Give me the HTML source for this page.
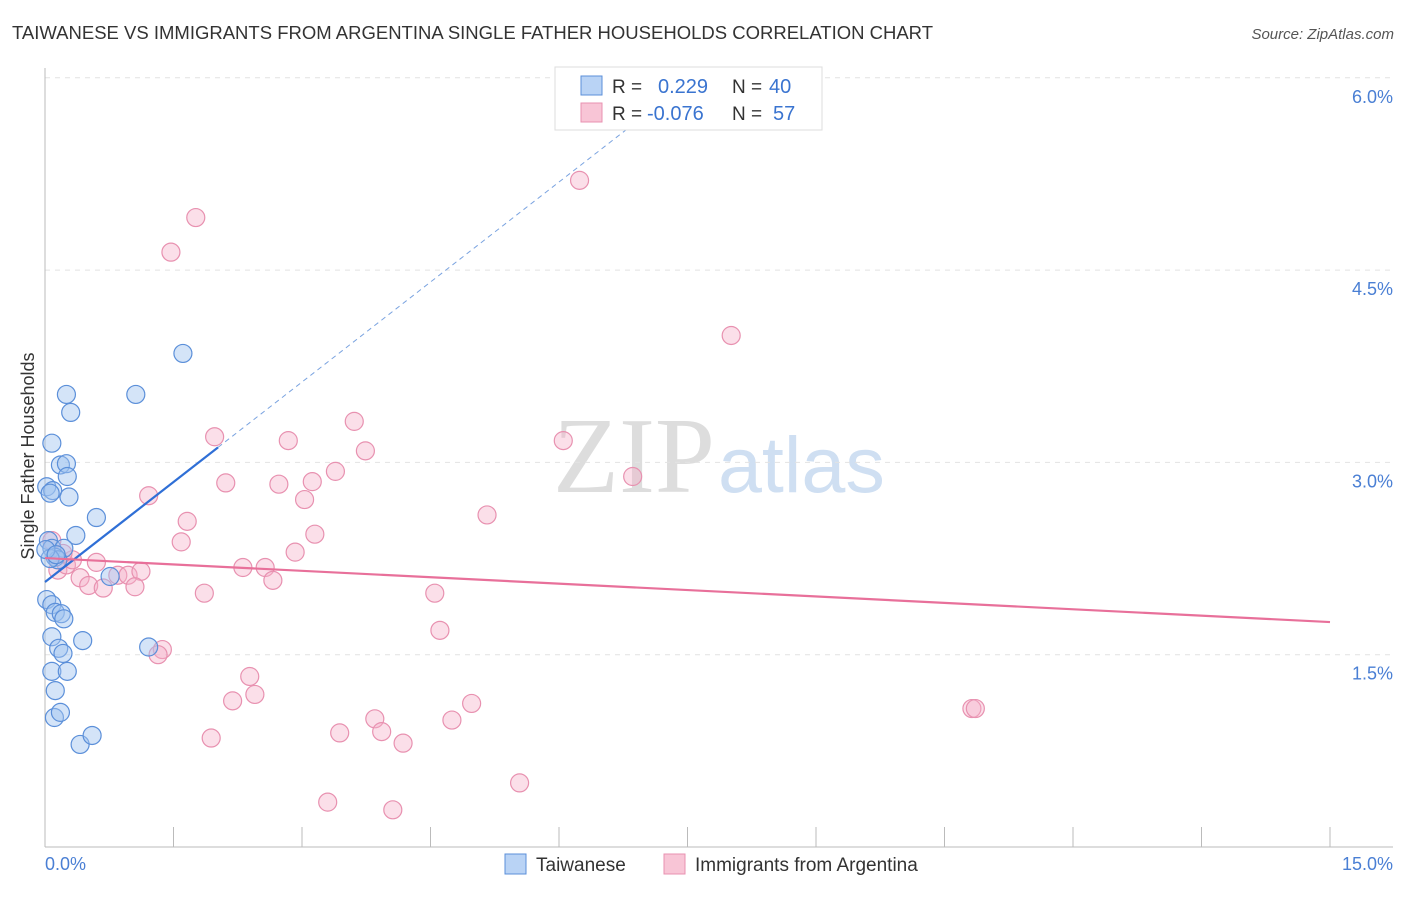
<!DOCTYPE html>
<html><head><meta charset="utf-8"><style>
body{margin:0;background:#fff;font-family:"Liberation Sans",sans-serif}
svg text{font-family:"Liberation Sans",sans-serif}
</style></head><body>
<svg id="chart" width="1406" height="892" xmlns="http://www.w3.org/2000/svg">
<text x="12" y="39" font-size="18.5" fill="#333">TAIWANESE VS IMMIGRANTS FROM ARGENTINA SINGLE FATHER HOUSEHOLDS CORRELATION CHART</text>
<text x="1394" y="39" font-size="15" fill="#555" font-style="italic" text-anchor="end">Source: ZipAtlas.com</text>
<g>
<text x="553" y="492" font-size="108" fill="#ddd" style="font-family:'Liberation Serif',serif">ZIP</text>
<text x="718" y="492" font-size="79" fill="#cfdff2">atlas</text>
</g>
<g id="grid"></g>
<g id="axes"></g>
<g id="marks"></g>
<text transform="translate(34,456) rotate(-90)" font-size="18" fill="#333" text-anchor="middle">Single Father Households</text>
<g>
<rect x="555" y="67" width="267" height="63" fill="#fff" stroke="#ddd"/>
<rect x="581" y="76" width="21" height="19" fill="#b9d3f5" stroke="#5b8fd9"/>
<rect x="581" y="103" width="21" height="19" fill="#f8c5d6" stroke="#e891b0"/>
<text x="612" y="93" font-size="19" fill="#333">R = </text><text x="658" y="93" font-size="20" fill="#3a74d0">0.229</text>
<text x="732" y="93" font-size="19" fill="#333">N = </text><text x="769" y="93" font-size="20" fill="#3a74d0">40</text>
<text x="612" y="120" font-size="19" fill="#333">R = </text><text x="647" y="120" font-size="20" fill="#3a74d0">-0.076</text>
<text x="732" y="120" font-size="19" fill="#333">N = </text><text x="773" y="120" font-size="20" fill="#3a74d0">57</text>
</g>
<g>
<rect x="505" y="854" width="21" height="20" fill="#b9d3f5" stroke="#5b8fd9"/>
<text x="536" y="871" font-size="19" fill="#333">Taiwanese</text>
<rect x="664" y="854" width="21" height="20" fill="#f8c5d6" stroke="#e891b0"/>
<text x="695" y="871" font-size="19" fill="#333">Immigrants from Argentina</text>
</g>
</svg>
<script>
const blueX=[1.61,.25,1.06,.30,.08,.18,.25,.26,.02,.09,.28,.60,.36,.04,.08,.22,.12,.15,.06,.76,.02,.08,.12,.19,.22,.44,.08,.16,.21,1.21,.08,.26,.12,.11,.18,.41,.55,.01,.06,.13];
const blueY=[3.85,3.53,3.53,3.39,3.15,2.98,2.99,2.89,2.81,2.78,2.73,2.57,2.43,2.39,2.33,2.33,2.26,2.24,2.25,2.11,1.93,1.89,1.83,1.82,1.78,1.61,1.64,1.55,1.51,1.56,1.37,1.37,1.22,1.01,1.05,.80,.87,2.32,2.76,2.28];
const pinkX=[6.24,1.76,1.47,8.01,1.98,6.05,2.84,3.61,3.74,6.86,3.39,1.21,2.11,2.73,3.12,3.03,5.16,1.66,3.15,1.59,2.92,.08,.15,.25,.32,.60,.41,.51,.68,.85,.97,1.12,1.05,2.31,2.57,2.66,1.86,4.55,4.61,1.37,1.32,2.39,2.45,2.19,1.94,3.85,3.93,3.44,4.75,4.98,4.18,3.30,4.06,5.54,10.82,10.86,.21];
const pinkY=[5.20,4.91,4.64,3.99,3.20,3.17,3.17,3.32,3.09,2.89,2.93,2.74,2.84,2.83,2.85,2.71,2.59,2.54,2.44,2.38,2.30,2.39,2.16,2.20,2.24,2.22,2.10,2.04,2.02,2.12,2.12,2.15,2.03,2.18,2.18,2.08,1.98,1.98,1.69,1.54,1.50,1.33,1.19,1.14,.85,1.00,.90,.89,.99,1.12,.81,.35,.29,.50,1.08,1.08,2.29];
const yTicks=[1.5,3.0,4.5,6.0];
const yTickLabels=["1.5%","3.0%","4.5%","6.0%"];
const xTicks=[0,1.5,3,4.5,6,7.5,9,10.5,12,13.5,15];
const xTickLabels=["0.0%","15.0%"];
const blueTrend=[2.067,0.52,2.02];
const pinkTrend=[2.254,-0.0333];
const NS="http://www.w3.org/2000/svg";
const sx=v=>45+v/15*1285, sy=v=>847-v*128.2;
function mk(p,t,a){const e=document.createElementNS(NS,t);for(const k in a)e.setAttribute(k,a[k]);p.appendChild(e);return e;}
const G=document.getElementById('grid'),A=document.getElementById('axes'),M=document.getElementById('marks');
yTicks.forEach((v,i)=>{
 const l=mk(G,'line',{x1:45,x2:1393,y1:sy(v),y2:sy(v),stroke:'#e2e2e2','stroke-dasharray':'5,5'});
 
 
 const t=mk(A,'text',{x:1393,y:sy(v)+25,'font-size':18,fill:'#4a7fd4','text-anchor':'end'});t.textContent=yTickLabels[i];
 
 
});
mk(A,'line',{x1:45,x2:45,y1:68,y2:847,stroke:'#bbb'});
mk(A,'line',{x1:45,x2:1393,y1:847,y2:847,stroke:'#bbb'});
xTicks.forEach(v=>{const l=mk(A,'line',{x1:sx(v),x2:sx(v),y1:827,y2:847,stroke:'#bbb'});
 
 });
let t0=mk(A,'text',{x:45,y:870,'font-size':18,fill:'#4a7fd4'});t0.textContent=xTickLabels[0];


let t1=mk(A,'text',{x:1393,y:870,'font-size':18,fill:'#4a7fd4','text-anchor':'end'});t1.textContent=xTickLabels[1];


pinkX.forEach((x,i)=>{const c=mk(M,'circle',{cx:sx(x),cy:sy(pinkY[i]),r:9,fill:'rgba(246,175,200,0.4)',stroke:'#e891b0','stroke-width':1.2});
 
 });
blueX.forEach((x,i)=>{const c=mk(M,'circle',{cx:sx(x),cy:sy(blueY[i]),r:9,fill:'rgba(160,196,240,0.45)',stroke:'#5b8fd9','stroke-width':1.2});
 
 });
const bf=x=>blueTrend[0]+blueTrend[1]*x;
let bl=mk(M,'line',{x1:sx(0),y1:sy(bf(0)),x2:sx(blueTrend[2]),y2:sy(bf(blueTrend[2])),stroke:'#2f6fd6','stroke-width':2.2});


const xe=(6.0-blueTrend[0])/blueTrend[1];
let bd=mk(M,'line',{x1:sx(blueTrend[2]),y1:sy(bf(blueTrend[2])),x2:sx(xe),y2:sy(bf(xe)),stroke:'#7aa3e0','stroke-width':1,'stroke-dasharray':'5,4'});


const pf=x=>pinkTrend[0]+pinkTrend[1]*x;
let pl=mk(M,'line',{x1:sx(0),y1:sy(pf(0)),x2:sx(15),y2:sy(pf(15)),stroke:'#e8709a','stroke-width':2.2});


</script>
</body></html>
